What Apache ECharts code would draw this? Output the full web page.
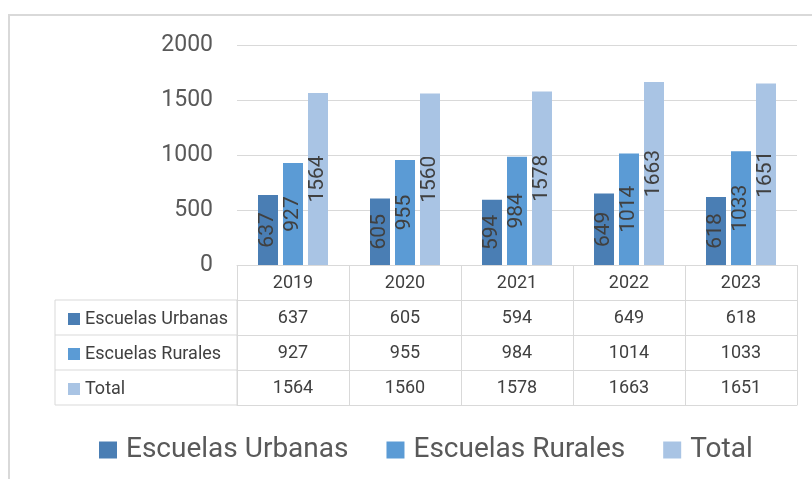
<!DOCTYPE html>
<html>
<head>
<meta charset="utf-8">
<script src="https://cdn.jsdelivr.net/npm/echarts@6/dist/echarts.min.js"></script>
<style>
  html, body { margin: 0; padding: 0; background: #fff; }
  #container { width: 812px; height: 479px; }
</style>
</head>
<body>
<div id="container"></div>
<script>
  // datos
  let years = ['2019', '2020', '2021', '2022', '2023'];
  let urbanas = [637, 605, 594, 649, 618];
  let rurales = [927, 955, 984, 1014, 1033];
  let total = [1564, 1560, 1578, 1663, 1651];
  let seriesNames = ['Escuelas Urbanas', 'Escuelas Rurales', 'Total'];

  let colors = ['#4a7eb4', '#5b9bd5', '#a9c4e4'];
  let lineColor = '#d9d9d9';
  let textColor = '#404040';
  let font = 'Roboto';

  let gridLeft = 237;
  let gridTop = 45;
  let axisY = 265;   // línea del 0
  let rowH = 35;

  let dom = document.getElementById('container');
  let myChart = echarts.init(dom);

  // filas de la tabla como ejes de categoría extra
  function tableAxis(values, row, withLabels) {
    return {
      type: 'category',
      position: 'bottom',
      offset: rowH * row,
      data: values.map(String),
      axisLine: { show: true, lineStyle: { color: lineColor, width: 1 } },
      axisTick: { show: withLabels, length: rowH, lineStyle: { color: lineColor, width: 1 } },
      axisLabel: {
        show: withLabels,
        interval: 0,
        margin: 9,
        fontFamily: font,
        fontSize: 18,
        color: textColor
      },
      splitLine: { show: false }
    };
  }

  let barLabel = {
    show: true,
    position: 'inside',
    rotate: 90,
    fontFamily: font,
    fontSize: 21,
    color: textColor
  };

  let option = {
    animation: false,
    textStyle: { fontFamily: font },
    grid: {
      left: gridLeft,
      right: 15,
      top: gridTop,
      height: axisY - gridTop
    },
    legend: [{
      // encabezados de fila de la tabla
      orient: 'vertical',
      left: 63,
      top: 304,
      icon: 'rect',
      itemWidth: 12,
      itemHeight: 12,
      itemGap: 15,
      selectedMode: false,
      textStyle: { fontFamily: font, fontSize: 18, color: textColor, lineHeight: 20 },
      data: seriesNames
    }, {
      left: 94,
      top: 431,
      icon: 'rect',
      itemWidth: 18,
      itemHeight: 17,
      itemGap: 38,
      selectedMode: false,
      textStyle: { fontFamily: font, fontSize: 28, color: '#595959', padding: [0, 0, 0, 4] },
      data: seriesNames
    }],
    xAxis: [
      tableAxis(years, 0, true),
      tableAxis(urbanas, 1, true),
      tableAxis(rurales, 2, true),
      tableAxis(total, 3, true),
      tableAxis(years, 4, false)
    ],
    yAxis: {
      type: 'value',
      min: 0,
      max: 2000,
      interval: 500,
      axisLine: { show: false },
      axisTick: { show: false },
      axisLabel: {
        margin: 24,
        fontFamily: font,
        fontSize: 23,
        color: '#595959',
        formatter: function (v) { return String(v); }
      },
      splitLine: { lineStyle: { color: lineColor, width: 1 } }
    },
    series: [{
      name: seriesNames[0],
      type: 'bar',
      data: urbanas,
      barGap: '25%',
      barCategoryGap: '37.5%',
      itemStyle: { color: colors[0] },
      label: barLabel
    }, {
      name: seriesNames[1],
      type: 'bar',
      data: rurales,
      itemStyle: { color: colors[1] },
      label: barLabel
    }, {
      name: seriesNames[2],
      type: 'bar',
      data: total,
      itemStyle: { color: colors[2] },
      label: barLabel
    }],
    graphic: {
      elements: [{
        // borde exterior del gráfico
        type: 'rect',
        shape: { x: 9, y: 15, width: 830, height: 500 },
        style: { fill: 'none', stroke: lineColor, lineWidth: 2 },
        silent: true
      }, {
        // columna de encabezados de la tabla
        type: 'rect',
        shape: { x: 55, y: axisY + rowH, width: gridLeft - 55, height: rowH * 3 },
        style: { fill: 'none', stroke: lineColor, lineWidth: 1 },
        silent: true
      }, {
        type: 'line',
        shape: { x1: 55, y1: axisY + rowH * 2, x2: gridLeft, y2: axisY + rowH * 2 },
        style: { stroke: lineColor, lineWidth: 1 },
        silent: true
      }, {
        type: 'line',
        shape: { x1: 55, y1: axisY + rowH * 3, x2: gridLeft, y2: axisY + rowH * 3 },
        style: { stroke: lineColor, lineWidth: 1 },
        silent: true
      }]
    }
  };

  myChart.setOption(option);
</script>
</body>
</html>
